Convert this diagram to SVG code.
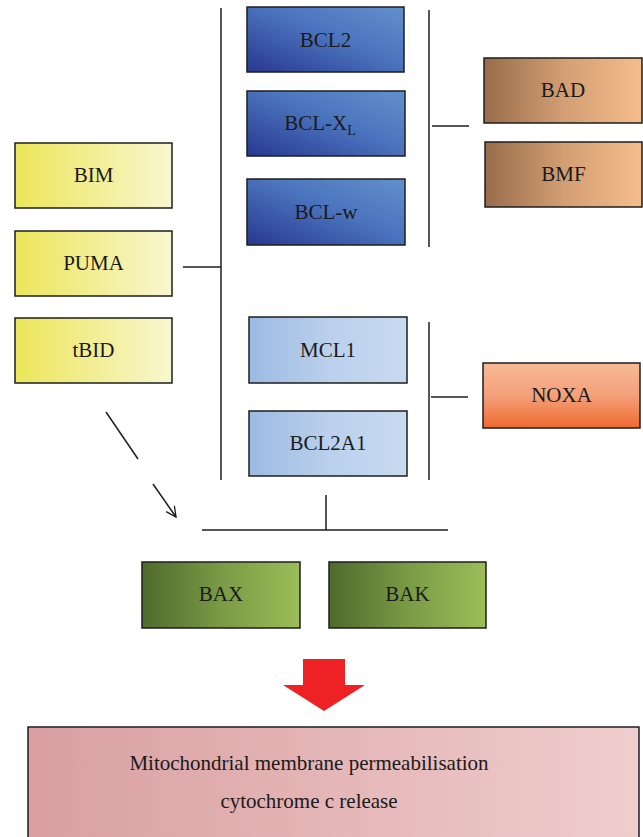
<svg xmlns="http://www.w3.org/2000/svg" width="643" height="837" viewBox="0 0 643 837">
<defs>
<linearGradient id="gYellow" x1="0" y1="0" x2="1" y2="0"><stop offset="0" stop-color="#ECE65A"/><stop offset="1" stop-color="#F8F6CF"/></linearGradient>
<linearGradient id="gBlue" x1="0" y1="1" x2="1" y2="0"><stop offset="0" stop-color="#28388F"/><stop offset="0.55" stop-color="#4B74BE"/><stop offset="1" stop-color="#6290CC"/></linearGradient>
<linearGradient id="gBrown" x1="0" y1="0" x2="1" y2="0"><stop offset="0" stop-color="#986C4A"/><stop offset="0.5" stop-color="#D29E73"/><stop offset="1" stop-color="#F5BD8A"/></linearGradient>
<linearGradient id="gLBlue" x1="0" y1="0" x2="1" y2="0"><stop offset="0" stop-color="#9BBAE2"/><stop offset="0.5" stop-color="#BAD0EC"/><stop offset="1" stop-color="#C8DAF0"/></linearGradient>
<linearGradient id="gOrange" x1="0" y1="0" x2="0" y2="1"><stop offset="0" stop-color="#F7BA96"/><stop offset="0.5" stop-color="#F4A07A"/><stop offset="1" stop-color="#EF6A2E"/></linearGradient>
<linearGradient id="gGreen" x1="0" y1="0" x2="1" y2="0"><stop offset="0" stop-color="#4F6A2D"/><stop offset="0.5" stop-color="#7A9A45"/><stop offset="1" stop-color="#9CBD58"/></linearGradient>
<linearGradient id="gPink" x1="0" y1="0" x2="1" y2="0"><stop offset="0" stop-color="#D99FA1"/><stop offset="1" stop-color="#F0CDCD"/></linearGradient>
<marker id="arr" viewBox="0 0 12 12" refX="11" refY="6" markerWidth="12" markerHeight="12" markerUnits="userSpaceOnUse" orient="auto"><path d="M1,1 L11,6 L1,11" fill="none" stroke="#1a1a1a" stroke-width="1.3"/></marker>
<style>
.box{stroke:#1e1e1e;stroke-width:1.5}
.t{font-family:"Liberation Serif","DejaVu Serif",serif;font-size:21px;fill:#1a1a1a;text-anchor:middle}
.ln{stroke:#1e1e1e;stroke-width:1.5;fill:none}
</style>
</defs>
<rect width="643" height="837" fill="#ffffff"/>
<g id="connectors">
<line class="ln" x1="221" y1="8" x2="221" y2="480"/>
<line class="ln" x1="183" y1="267" x2="221" y2="267"/>
<line class="ln" x1="429" y1="10" x2="429" y2="247"/>
<line class="ln" x1="432" y1="126" x2="469" y2="126" stroke="#555"/>
<line class="ln" x1="429" y1="322" x2="429" y2="480"/>
<line class="ln" x1="431" y1="397" x2="468" y2="397"/>
<line class="ln" x1="106" y1="412" x2="138" y2="459"/>
<line class="ln" x1="153" y1="484" x2="176" y2="517" marker-end="url(#arr)"/>
<line class="ln" x1="326" y1="495" x2="326" y2="530"/>
<line class="ln" x1="202" y1="530" x2="448" y2="530"/>
</g>
<g id="BIM"><rect class="box" x="15" y="143" width="157" height="65" fill="url(#gYellow)"/><text class="t" x="93.5" y="182">BIM</text></g>
<g id="PUMA"><rect class="box" x="15" y="231" width="157" height="65" fill="url(#gYellow)"/><text class="t" x="93.5" y="270">PUMA</text></g>
<g id="tBID"><rect class="box" x="15" y="318" width="157" height="65" fill="url(#gYellow)"/><text class="t" x="93.5" y="357">tBID</text></g>
<g id="BCL2"><rect class="box" x="247" y="7" width="157" height="65" fill="url(#gBlue)"/><text class="t" x="325.5" y="47">BCL2</text></g>
<g id="BCL-XL"><rect class="box" x="247" y="91" width="158" height="65" fill="url(#gBlue)"/><text class="t" x="320" y="130">BCL-X<tspan font-size="14" dy="5">L</tspan></text></g>
<g id="BCL-w"><rect class="box" x="247" y="179" width="158" height="66" fill="url(#gBlue)"/><text class="t" x="326" y="219">BCL-w</text></g>
<g id="BAD"><rect class="box" x="484" y="58" width="158" height="65" fill="url(#gBrown)"/><text class="t" x="563" y="97">BAD</text></g>
<g id="BMF"><rect class="box" x="485" y="142" width="157" height="65" fill="url(#gBrown)"/><text class="t" x="563.5" y="181">BMF</text></g>
<g id="MCL1"><rect class="box" x="249" y="317" width="158" height="66" fill="url(#gLBlue)"/><text class="t" x="328" y="357">MCL1</text></g>
<g id="BCL2A1"><rect class="box" x="249" y="411" width="158" height="65" fill="url(#gLBlue)"/><text class="t" x="328" y="450">BCL2A1</text></g>
<g id="NOXA"><rect class="box" x="483" y="363" width="157" height="65" fill="url(#gOrange)"/><text class="t" x="561.5" y="402">NOXA</text></g>
<g id="BAX"><rect class="box" x="142" y="562" width="158" height="66" fill="url(#gGreen)"/><text class="t" x="221" y="601">BAX</text></g>
<g id="BAK"><rect class="box" x="329" y="562" width="157" height="66" fill="url(#gGreen)"/><text class="t" x="407.5" y="601">BAK</text></g>
<g id="arrow"><polygon points="303,659 345,659 345,685 365,685 324,711 283,685 303,685" fill="#EE2224"/></g>
<g id="result"><rect class="box" x="28" y="727" width="611" height="115" fill="url(#gPink)"/><text class="t" x="309" y="770">Mitochondrial membrane permeabilisation</text><text class="t" x="309" y="808">cytochrome c release</text></g>
</svg>
